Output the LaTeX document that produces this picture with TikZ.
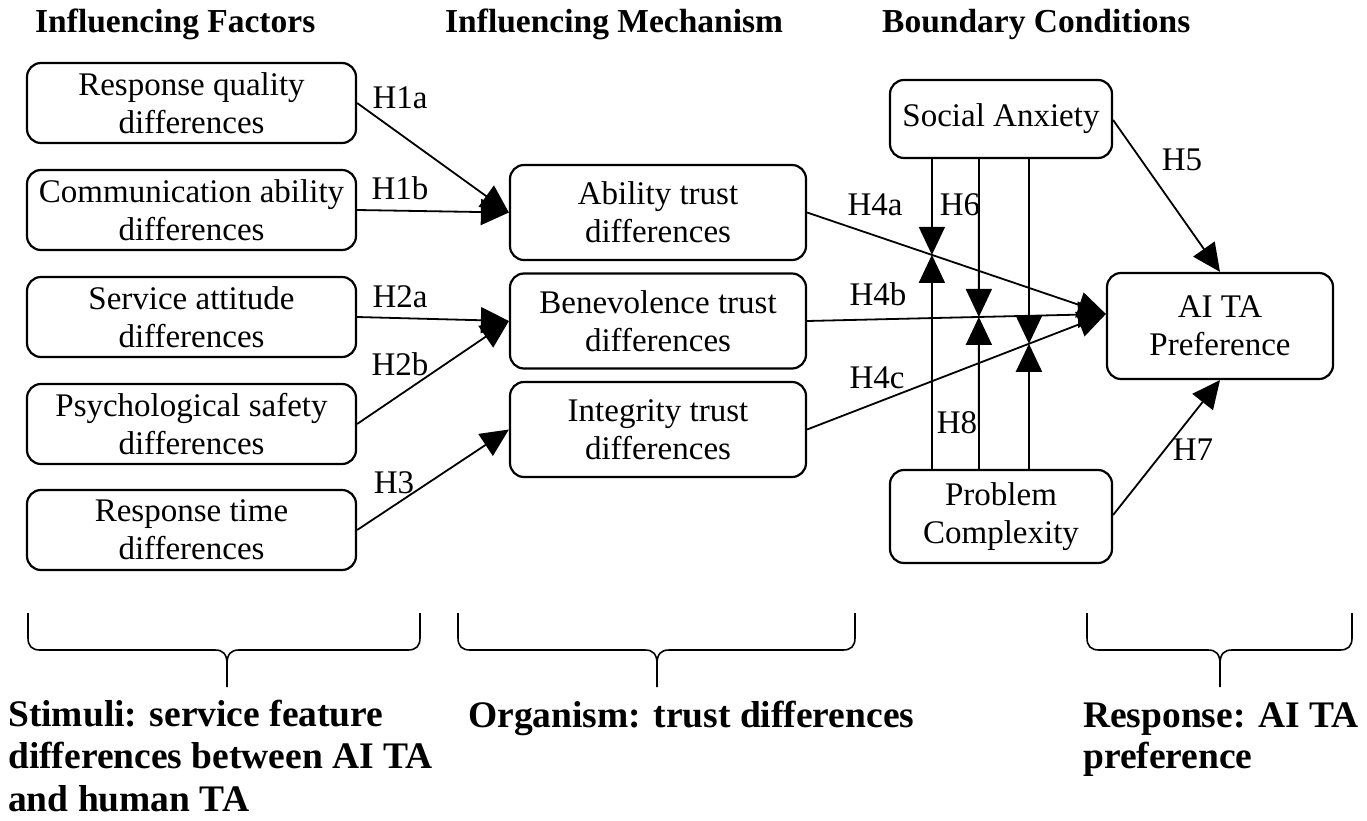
\documentclass[tikz,border=0pt]{standalone}
\usepackage{fontspec}
\setmainfont{Liberation Serif}
\usetikzlibrary{arrows.meta,calc}
\begin{document}
\begin{tikzpicture}[x=1pt,y=-1pt,
 box/.style={draw, line width=2.2pt, rounded corners=14pt, align=center, font=\fontsize{33}{38}\selectfont, inner sep=0pt},
 arr/.style={line width=1.8pt, -{Triangle[length=28pt,width=26pt]}},
 lab/.style={font=\fontsize{33}{38}\selectfont, inner sep=0pt},
 head/.style={font=\bfseries\fontsize{33.5}{38}\selectfont, anchor=base west, inner sep=0pt},
 foot/.style={font=\bfseries\fontsize{37.5}{41}\selectfont, anchor=base west, inner sep=0pt},
 bracepath/.style={line width=1.6pt}]
\useasboundingbox (0,0) rectangle (1367,821);

% headers
\node[head] (h1) at (35,33) {Influencing Factors};
\node[head] (h2) at (445,33) {Influencing Mechanism};
\node[head] (h3) at (882,33) {Boundary Conditions};

% left column
\node[box, minimum width=329pt, minimum height=80pt] (f1) at (191.5,103) {Response quality\\differences};
\node[box, minimum width=329pt, minimum height=80pt] (f2) at (191.5,210) {Communication ability\\differences};
\node[box, minimum width=329pt, minimum height=80pt] (f3) at (191.5,317) {Service attitude\\differences};
\node[box, minimum width=329pt, minimum height=80pt] (f4) at (191.5,424) {Psychological safety\\differences};
\node[box, minimum width=329pt, minimum height=80pt] (f5) at (191.5,530) {Response time\\differences};

% middle column
\node[box, minimum width=296pt, minimum height=95pt] (m1) at (658,212.5) {Ability trust\\differences};
\node[box, minimum width=296pt, minimum height=95pt] (m2) at (658,321) {Benevolence trust\\differences};
\node[box, minimum width=296pt, minimum height=95pt] (m3) at (658,429.5) {Integrity trust\\differences};

% right
\node[box, minimum width=222pt, minimum height=78pt] (sa) at (1001,119) {Social Anxiety};
\node[box, minimum width=222pt, minimum height=93pt] (pc) at (1001,516.5) {Problem\\Complexity};
\node[box, minimum width=226pt, minimum height=106pt] (ai) at (1220,326) {AI TA\\Preference};

% stimulus -> organism
\draw[arr] (f1.east) -- (m1.west);
\draw[arr] (f2.east) -- (m1.west);
\draw[arr] (f3.east) -- (m2.west);
\draw[arr] (f4.east) -- (m2.west);
\draw[arr] (f5.east) -- (m3.west);

% organism -> response
\coordinate (conv) at ($(ai.west)+(0,-12)$);
\draw[arr] (m1.east) -- (conv);
\draw[arr] (m2.east) -- (conv);
\draw[arr] (m3.east) -- (conv);

% moderators
\coordinate (v1t) at ($(sa.south west)+(43,0)$);
\coordinate (v2t) at ($(sa.south west)+(90,0)$);
\coordinate (v3t) at ($(sa.south west)+(140,0)$);
\coordinate (v1b) at ($(pc.north west)+(43,0)$);
\coordinate (v2b) at ($(pc.north west)+(90,0)$);
\coordinate (v3b) at ($(pc.north west)+(140,0)$);
\coordinate (x1) at (intersection of v1t--v1b and m1.east--conv);
\coordinate (x2) at (intersection of v2t--v2b and m2.east--conv);
\coordinate (x3) at (intersection of v3t--v3b and m3.east--conv);
\draw[arr] (v1t) -- (x1);
\draw[arr] (v1b) -- (x1);
\draw[arr] (v2t) -- (x2);
\draw[arr] (v2b) -- (x2);
\draw[arr] (v3t) -- (x3);
\draw[arr] (v3b) -- (x3);

\draw[arr] (sa.east |- 0,120) -- (ai.north);
\draw[arr] (pc.east |- 0,515) -- (ai.south);

% labels
\node[lab] (l1a) at (400,98) {H1a};
\node[lab] (l1b) at (400,188) {H1b};
\node[lab] (l2a) at (400,297) {H2a};
\node[lab] (l2b) at (400,364) {H2b};
\node[lab] (l3) at (394,483) {H3};
\node[lab] (l4a) at (875,205) {H4a};
\node[lab] (l4b) at (878,294) {H4b};
\node[lab] (l4c) at (877,378) {H4c};
\node[lab] (l6) at (960,205) {H6};
\node[lab] (l8) at (957,423) {H8};
\node[lab] (l5) at (1182,160) {H5};
\node[lab] (l7) at (1193,450) {H7};

% braces
\draw[bracepath] (28,613) -- (28,638) .. controls (28,646) and (32,650) .. (40,650) -- (215,650) .. controls (223,650) and (227,654) .. (227,664) -- (227,687);
\draw[bracepath] (420,613) -- (420,638) .. controls (420,646) and (416,650) .. (408,650) -- (239,650) .. controls (231,650) and (227,654) .. (227,664);
\draw[bracepath] (458,613) -- (458,638) .. controls (458,646) and (462,650) .. (470,650) -- (645,650) .. controls (653,650) and (657,654) .. (657,664) -- (657,687);
\draw[bracepath] (855,613) -- (855,638) .. controls (855,646) and (851,650) .. (843,650) -- (669,650) .. controls (661,650) and (657,654) .. (657,664);
\draw[bracepath] (1087,613) -- (1087,638) .. controls (1087,646) and (1091,650) .. (1099,650) -- (1208,650) .. controls (1216,650) and (1220,654) .. (1220,664) -- (1220,687);
\draw[bracepath] (1352,613) -- (1352,638) .. controls (1352,646) and (1348,650) .. (1340,650) -- (1232,650) .. controls (1224,650) and (1220,654) .. (1220,664);

% footers
\node[foot] (s1) at (8,726) {Stimuli: service feature};
\node[foot] (s2) at (8,768) {differences between AI TA};
\node[foot] (s3) at (8,811) {and human TA};
\node[foot] (o1) at (468,727) {Organism: trust differences};
\node[foot] (r1) at (1083,727) {Response: AI TA};
\node[foot] (r2) at (1083,768) {preference};
\end{tikzpicture}
\end{document}
